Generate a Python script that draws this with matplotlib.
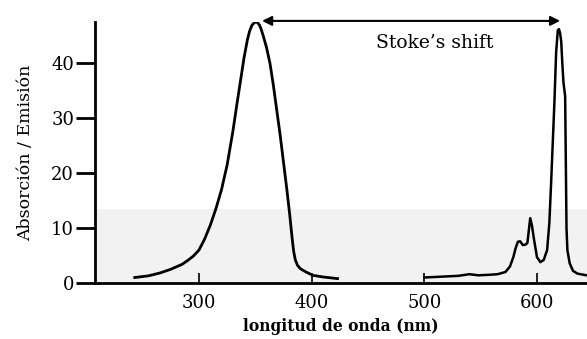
import matplotlib
matplotlib.use("Agg")
import matplotlib.pyplot as plt
import numpy as np

# Absorption spectrum (wavelength nm, intensity)
abs_wl = [243, 255, 265, 275, 285, 290, 295, 300, 305, 310, 315, 320, 325, 330, 334, 337, 340,
          343, 345, 347, 349, 350.5, 352, 353.5, 355, 357, 360, 363, 366, 369, 372, 375, 378,
          380.5, 382.5, 384, 385.5, 387.5, 390, 395, 401, 410, 423]
abs_val = [1.0, 1.3, 1.8, 2.5, 3.4, 4.1, 4.9, 6.0, 8.0, 10.5, 13.5, 17.0, 21.5, 27.5, 33.0, 37.0, 41.0,
           44.3, 45.9, 46.9, 47.35, 47.5, 47.4, 47.0, 46.3, 45.0, 42.8, 40.0, 36.0, 31.5, 27.0, 22.0, 17.0,
           12.5, 8.5, 5.8, 4.2, 3.2, 2.6, 2.0, 1.4, 1.1, 0.8]

# Emission spectrum
em_wl = [500, 510, 520, 530, 540, 548, 558, 565, 572, 576, 579, 581, 583, 585, 587.5, 590, 591.5,
         593, 594, 595.5, 597, 600, 603, 606, 609, 611, 612.5, 614, 615.5, 617, 618.5, 619.5,
         620.5, 621.5, 622.5, 623.5, 625, 625.6, 626.2, 627, 629, 632, 636, 644]
em_val = [1.0, 1.1, 1.2, 1.3, 1.6, 1.4, 1.5, 1.6, 2.0, 3.0, 4.7, 6.3, 7.5, 7.6, 6.9, 7.0, 7.3,
          10.0, 11.8, 10.5, 8.4, 4.7, 3.8, 4.2, 6.0, 11.0, 18.0, 25.5, 33.0, 42.0, 46.0, 46.2,
          45.5, 44.0, 40.0, 36.5, 34.0, 22.0, 10.0, 6.0, 3.6, 2.2, 1.7, 1.4]

x_ticks = [300, 400, 500, 600]
y_ticks = [0, 10, 20, 30, 40]

plt.rcParams['font.family'] = ['DejaVu Serif']

fig = plt.figure(figsize=(5.87, 3.39), dpi=100)
ax = fig.add_axes([95/587, 1-283/339, 492/587, 261/339])

ax.axhspan(0, 13.5, color='#f2f2f2', zorder=0, lw=0)

ax.plot(abs_wl, abs_val, color='black', lw=2.0, solid_joinstyle='round')
ax.plot(em_wl, em_val, color='black', lw=1.8, solid_joinstyle='round')

ax.annotate('', xy=(620.5, 47.7), xytext=(356, 47.7),
            arrowprops=dict(arrowstyle='<|-|>', color='black', lw=1.5,
                            mutation_scale=14, shrinkA=0, shrinkB=0),
            annotation_clip=False)
ax.text(509, 43.6, "Stoke\u2019s shift", ha='center', va='center', fontsize=13.5)

ax.set_xlim(207.7, 644.4)
ax.set_ylim(0, 47.5)
ax.set_xticks(x_ticks)
ax.set_yticks(y_ticks)
ax.tick_params(axis='x', direction='in', length=7, width=1.2, pad=8, labelsize=13)
ax.tick_params(axis='y', direction='out', length=14, width=2.0, pad=1, labelsize=13)

for s in ['top', 'right']:
    ax.spines[s].set_visible(False)
for s in ['left', 'bottom']:
    ax.spines[s].set_linewidth(2.0)

ax.set_xlabel('longitud de onda (nm)', fontsize=11.2, fontweight='bold', labelpad=4)
ax.set_ylabel('Absorción / Emisión', fontsize=12.5, labelpad=12)

fig.savefig('out.png', dpi=100)
